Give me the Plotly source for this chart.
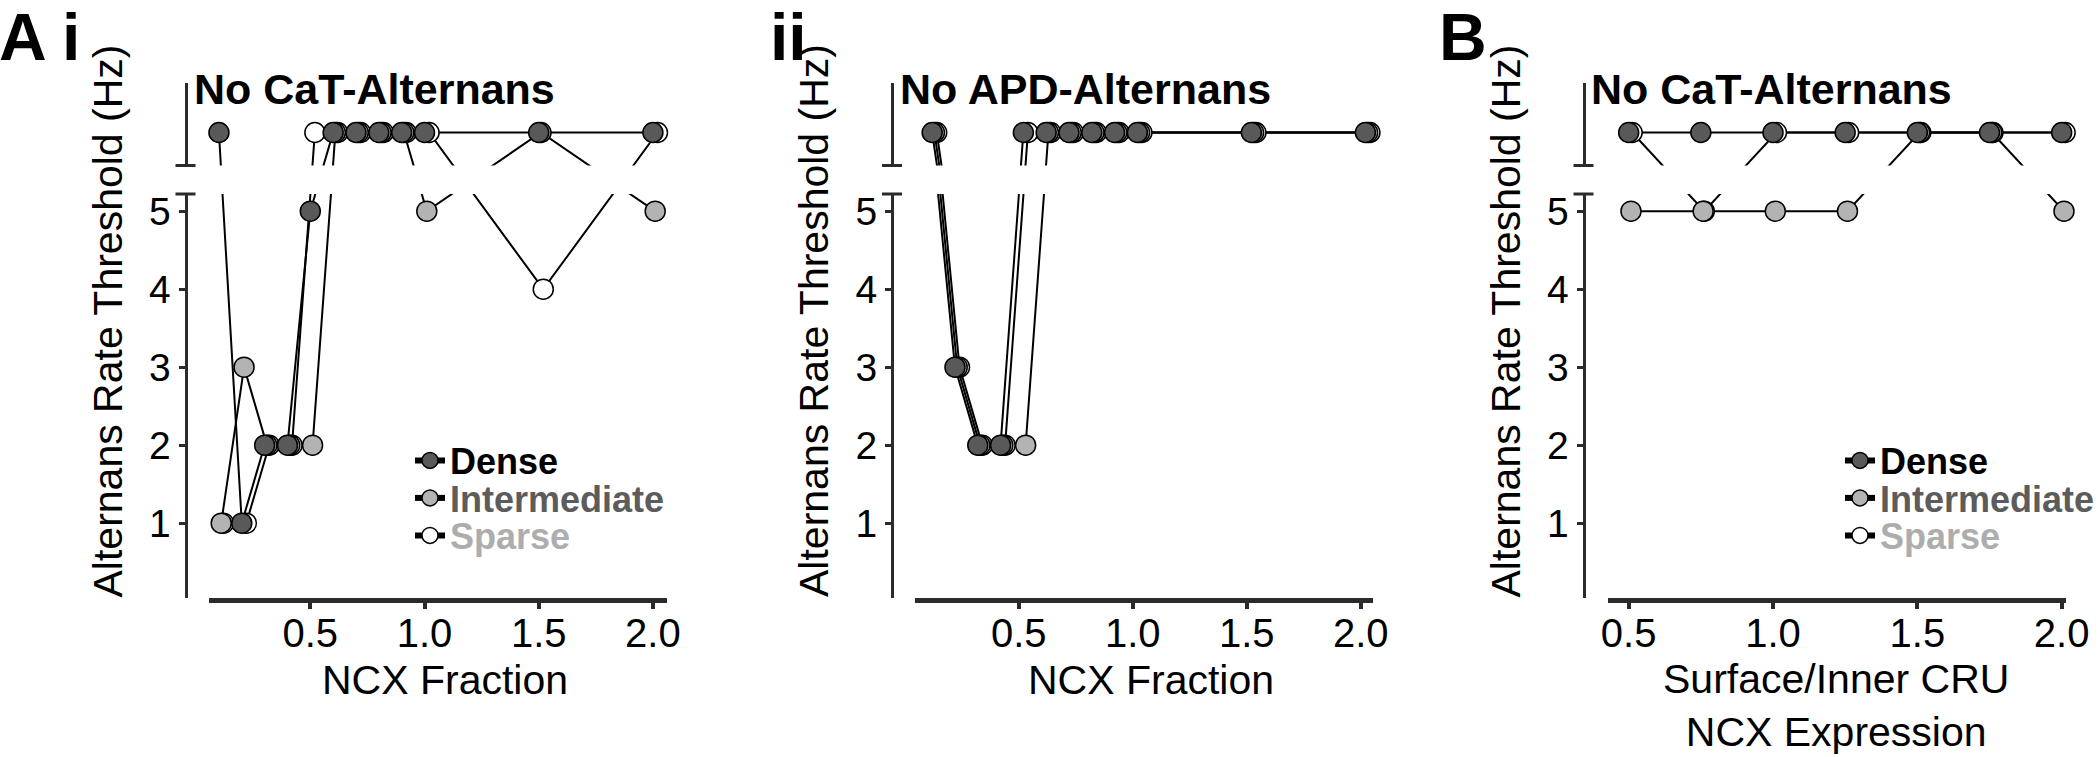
import plotly.graph_objects as go

# ---------------- data (None = "No Alternans") ----------------
ncx_fraction = [0.1, 0.2, 0.3, 0.4, 0.5, 0.6, 0.7, 0.8, 0.9, 1.0, 1.5, 2.0]
cat_dense = [None, 1, 2, 2, 5, None, None, None, None, None, None, None]
cat_intermediate = [1, 3, 2, 2, 2, None, None, None, None, 5, None, 5]
cat_sparse = [1, 1, 2, 2, None, None, None, None, None, None, 4, None]

apd_dense = [None, 3, 2, 2, None, None, None, None, None, None, None, None]
apd_intermediate = [None, 3, 2, 2, 2, None, None, None, None, None, None, None]
apd_sparse = [None, 3, 2, 2, None, None, None, None, None, None, None, None]

surface_inner = [0.5, 0.75, 1.0, 1.25, 1.5, 1.75, 2.0]
cru_dense = [None, None, None, None, None, None, None]
cru_intermediate = [5, 5, 5, 5, None, None, 5]
cru_sparse = [None, 5, None, None, None, None, None]

series_names = ["Dense", "Intermediate", "Sparse"]
x_tick_vals = [0.5, 1.0, 1.5, 2.0]
x_tick_text = ["0.5", "1.0", "1.5", "2.0"]
y_tick_vals = [1, 2, 3, 4, 5]

# ---------------- style ----------------
W, H = 2100, 757
FONT = "Liberation Sans, Arial, sans-serif"
NO_ALT = 6.0
fill = {"Dense": "#595959", "Intermediate": "#b3b3b3", "Sparse": "#ffffff"}
text_col = {"Dense": "#000000", "Intermediate": "#5c5c5c", "Sparse": "#adadad"}
AX = "#2b2b2b"

def px_x(p):
    return p / W

def px_y(p):
    return 1 - p / H

lo_dom = [px_y(598), px_y(194)]
hi_dom = [px_y(165.5), px_y(83.3)]
lo_rng = [0.04, 5.22]
hi_rng = [5.577, 6.631]

panels = [
    dict(x=ncx_fraction, data=[cat_dense, cat_intermediate, cat_sparse],
         jit=[0.0, 0.01, 0.02], xdom=[209, 666.5], xr=[0.0565, 2.0595], ypos=185.5,
         lab="No CaT-Alternans", labx=192, title="NCX Fraction", tx=445),
    dict(x=ncx_fraction, data=[apd_dense, apd_intermediate, apd_sparse],
         jit=[0.02, 0.03, 0.04], xdom=[915.2, 1372.8], xr=[0.0456, 2.0526], ypos=892,
         lab="No APD-Alternans", labx=898, title="NCX Fraction", tx=1151),
    dict(x=surface_inner, data=[cru_dense, cru_intermediate, cru_sparse],
         jit=[0.0, 0.008, 0.012], xdom=[1607.6, 2066], xr=[0.427, 2.015], ypos=1583.5,
         lab="No CaT-Alternans", labx=1589, title="Surface/Inner CRU<br>NCX Expression", tx=1836),
]

fig = go.Figure()
layout = {}
shapes = []
annotations = []

for i, p in enumerate(panels):
    lo_n, hi_n = 2 * i + 1, 2 * i + 2
    xlo = "x" if lo_n == 1 else f"x{lo_n}"
    ylo = "y" if lo_n == 1 else f"y{lo_n}"
    xhi, yhi = f"x{hi_n}", f"y{hi_n}"
    xkey_lo = "xaxis" if lo_n == 1 else f"xaxis{lo_n}"
    ykey_lo = "yaxis" if lo_n == 1 else f"yaxis{lo_n}"
    xdom = [px_x(p["xdom"][0]), px_x(p["xdom"][1])]

    layout[xkey_lo] = dict(domain=xdom, range=p["xr"], anchor=ylo, showline=True, linewidth=5,
                           linecolor=AX, ticks="outside", ticklen=6, tickwidth=4, tickcolor=AX,
                           tickvals=x_tick_vals, ticktext=x_tick_text, showgrid=False, zeroline=False,
                           ticklabelstandoff=-10, automargin=False,
                           tickfont=dict(family=FONT, size=40, color="black"))
    layout[f"xaxis{hi_n}"] = dict(domain=xdom, range=p["xr"], anchor=yhi, matches=xlo,
                                  visible=False, automargin=False)
    layout[ykey_lo] = dict(domain=lo_dom, range=lo_rng, anchor="free", position=px_x(p["ypos"]),
                           showline=True, linewidth=3, linecolor=AX, ticks="outside", ticklen=6,
                           tickwidth=2.5, tickcolor=AX, tickvals=y_tick_vals, showgrid=False,
                           zeroline=False, automargin=False,
                           tickfont=dict(family=FONT, size=39, color="black"))
    layout[f"yaxis{hi_n}"] = dict(domain=hi_dom, range=hi_rng, anchor="free", position=px_x(p["ypos"]),
                                  showline=True, linewidth=3, linecolor=AX, ticks="",
                                  showticklabels=False, showgrid=False, zeroline=False,
                                  automargin=False)

    # axis-break caps
    for yy in (194, 165.5):
        shapes.append(dict(type="line", xref="paper", yref="paper",
                           x0=px_x(p["ypos"] - 10), x1=px_x(p["ypos"] + 10),
                           y0=px_y(yy), y1=px_y(yy), line=dict(color=AX, width=3)))

    # lines first (both sub-plots), then markers
    for xa, ya in ((xlo, ylo), (xhi, yhi)):
        for name, vals, j in zip(series_names[::-1], p["data"][::-1], p["jit"][::-1]):
            xs = [v + j for v in p["x"]]
            ys = [NO_ALT if v is None else v for v in vals]
            fig.add_trace(go.Scatter(x=xs, y=ys, mode="lines", xaxis=xa, yaxis=ya,
                                     line=dict(color="black", width=2), showlegend=False,
                                     hoverinfo="skip"))
    for xa, ya, upper in ((xlo, ylo, False), (xhi, yhi, True)):
        for name, vals, j in zip(series_names[::-1], p["data"][::-1], p["jit"][::-1]):
            pts = [(xv + j, NO_ALT if v is None else v) for xv, v in zip(p["x"], vals)
                   if (v is None) == upper]
            if not pts:
                continue
            fig.add_trace(go.Scatter(x=[a for a, b in pts], y=[b for a, b in pts], mode="markers",
                                     xaxis=xa, yaxis=ya, cliponaxis=False, showlegend=False,
                                     marker=dict(size=20, color=fill[name],
                                                 line=dict(color="black", width=1.5)),
                                     name=name))

    annotations.append(dict(text=f"<b>{p['lab']}</b>", x=px_x(p["labx"]), y=px_y(89),
                            xref="paper", yref="paper", xanchor="left", yanchor="middle",
                            showarrow=False, font=dict(family=FONT, size=43, color="black")))
    ty = 680 if i < 2 else 705
    annotations.append(dict(text=p["title"], x=px_x(p["tx"]), y=px_y(ty), xref="paper",
                            yref="paper", xanchor="center", yanchor="middle", showarrow=False,
                            font=dict(family=FONT, size=41, color="black")))
    annotations.append(dict(text="Alternans Rate Threshold (Hz)", x=px_x(p["ypos"] - 78),
                            y=px_y(321), xref="paper", yref="paper", xanchor="center",
                            yanchor="middle", textangle=-90, showarrow=False,
                            font=dict(family=FONT, size=41, color="black")))

# legends: one per entry so that row spacing matches (panel A i and panel B)
row_y = [460.5, 498, 535.5]
leg_n = 0
for leg_x in (410, 1840):
    for name, ry in zip(series_names, row_y):
        leg_n += 1
        key = "legend" if leg_n == 1 else f"legend{leg_n}"
        fig.add_trace(go.Scatter(x=[None], y=[None], mode="lines+markers", legend=key,
                                 name=f"<span style='color:{text_col[name]}'><b>{name}</b></span>",
                                 line=dict(color="black", width=6),
                                 marker=dict(size=20, color=fill[name],
                                             line=dict(color="black", width=1.5))))
        layout[key] = dict(x=px_x(leg_x), y=px_y(ry), xanchor="left", yanchor="middle",
                           entrywidth=120, entrywidthmode="pixels",
                           bgcolor="rgba(0,0,0,0)", font=dict(family=FONT, size=36, color="black"))

for txt, xpx in (("A", -3), ("i", 60), ("ii", 768), ("B", 1437)):
    annotations.append(dict(text=f"<b>{txt}</b>", x=px_x(xpx), y=px_y(37), xref="paper",
                            yref="paper", xanchor="left", yanchor="middle", showarrow=False,
                            font=dict(family=FONT, size=66, color="black")))

fig.update_layout(width=W, height=H, margin=dict(l=0, r=0, t=0, b=0, autoexpand=False),
                  plot_bgcolor="white", paper_bgcolor="white", shapes=shapes,
                  annotations=annotations, **layout)
fig.write_html("out.html", config={"displayModeBar": False},
               post_script="document.body.style.margin='0px';document.body.style.overflow='hidden';")
